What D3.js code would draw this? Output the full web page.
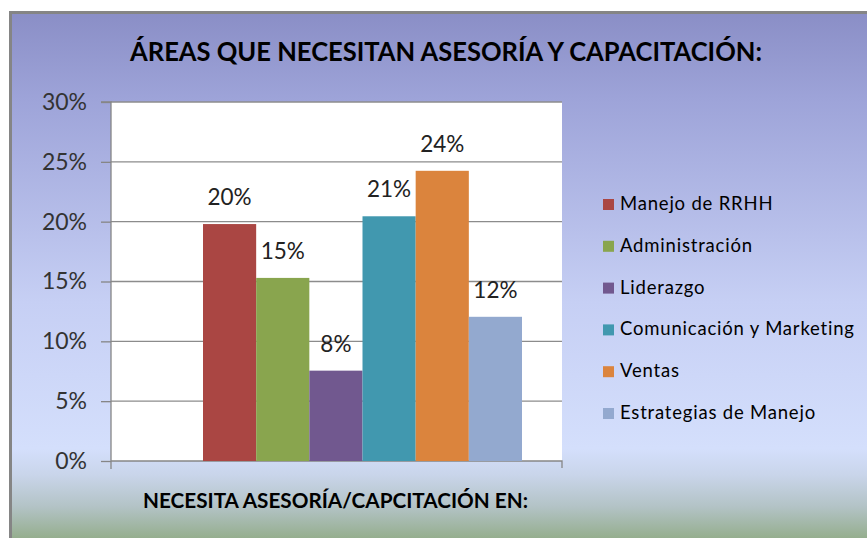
<!DOCTYPE html>
<html>
<head>
<meta charset="utf-8">
<script src="https://cdn.jsdelivr.net/npm/d3@7"></script>
<style>
  body { margin: 0; background: #fff; }
  svg { display: block; }
</style>
</head>
<body>
<div id="chart"></div>
<script>
// datos
const categoria = ["NECESITA ASESORÍA/CAPCITACIÓN EN:"];
const series = ["Manejo de RRHH", "Administración", "Liderazgo", "Comunicación y Marketing", "Ventas", "Estrategias de Manejo"];
const valores = [0.198, 0.153, 0.0755, 0.2045, 0.2425, 0.1205];
const etiquetas = ["20%", "15%", "8%", "21%", "24%", "12%"];
const colores = ["#AA4643", "#89A54E", "#71588F", "#4198AF", "#DB843D", "#93A9CF"];
const ticksY = [0, 0.05, 0.10, 0.15, 0.20, 0.25, 0.30];
const titulo = "ÁREAS QUE NECESITAN ASESORÍA Y CAPACITACIÓN:";

const W = 867, H = 538;
const font = "Lato, 'Open Sans', sans-serif";

const svg = d3.select("#chart").append("svg")
  .attr("width", W).attr("height", H);

// fondo con degradado
const defs = svg.append("defs");
const grad = defs.append("linearGradient")
  .attr("id", "fondo").attr("x1", 0).attr("y1", 0).attr("x2", 0).attr("y2", 1);
[[0, "#8a8ec6"], [0.17, "#9ea4d9"], [0.55, "#c6cff4"], [0.83, "#d4dffc"],
 [0.88, "#c9d5ea"], [0.94, "#b3c3c6"], [1, "#95ae8e"]].forEach(s => {
  grad.append("stop").attr("offset", s[0]).attr("stop-color", s[1]);
});

svg.append("rect")
  .attr("x", 10).attr("y", 12).attr("width", W - 10).attr("height", H - 12)
  .attr("fill", "url(#fondo)");
// borde gris arriba e izquierda
svg.append("path")
  .attr("d", `M${W},12.5 H10.5 V${H}`)
  .attr("fill", "none").attr("stroke", "#858585").attr("stroke-width", 3);

// area del grafico
const plot = {left: 111, right: 562, top: 102, bottom: 461};

svg.append("rect")
  .attr("x", plot.left).attr("y", plot.top)
  .attr("width", plot.right - plot.left).attr("height", plot.bottom - plot.top)
  .attr("fill", "#fff");

const y = d3.scaleLinear().domain([0, 0.30]).range([plot.bottom, plot.top]);

const x0 = d3.scaleBand().domain(categoria).range([plot.left, plot.right]);
const x1 = d3.scaleBand().domain(series).range([203, 522]);

// lineas de cuadricula
svg.append("g")
  .selectAll("line")
  .data(ticksY.filter(d => d > 0))
  .join("line")
  .attr("x1", plot.left).attr("x2", plot.right)
  .attr("y1", d => y(d)).attr("y2", d => y(d))
  .attr("stroke", "#8c8c8c").attr("stroke-width", 1.3);

// eje Y
const axisY = svg.append("g")
  .attr("transform", `translate(${plot.left},0)`)
  .call(d3.axisLeft(y).tickValues(ticksY).tickFormat(d3.format(".0%")).tickSize(10).tickPadding(14));
axisY.select(".domain").attr("stroke", "#868686").attr("stroke-width", 1.3)
  .attr("d", `M-10,${plot.top}H0V${plot.bottom + 8}`);
axisY.selectAll(".tick line").attr("stroke", "#868686").attr("stroke-width", 1.3);
axisY.selectAll(".tick text")
  .attr("font-family", font).attr("font-size", 23).attr("fill", "#333");

// eje X
const axisX = svg.append("g")
  .attr("transform", `translate(0,${plot.bottom})`);
axisX.append("path")
  .attr("d", `M${x0.range()[0]},0H${x0.range()[1]}V7`)
  .attr("fill", "none").attr("stroke", "#868686").attr("stroke-width", 1.3);

// barras
svg.append("g")
  .selectAll("rect")
  .data(valores)
  .join("rect")
  .attr("x", (d, i) => x1(series[i]))
  .attr("width", x1.bandwidth())
  .attr("y", d => y(d))
  .attr("height", d => y(0) - y(d))
  .attr("fill", (d, i) => colores[i]);

// etiquetas de datos
svg.append("g")
  .selectAll("text")
  .data(valores)
  .join("text")
  .attr("x", (d, i) => x1(series[i]) + x1.bandwidth() / 2)
  .attr("y", d => y(d) - 19)
  .attr("text-anchor", "middle")
  .attr("font-family", font).attr("font-size", 22.5).attr("fill", "#222")
  .text((d, i) => etiquetas[i]);

// titulo
svg.append("text")
  .attr("x", 446).attr("y", 61)
  .attr("text-anchor", "middle")
  .attr("font-family", font).attr("font-size", 26).attr("font-weight", "bold")
  .attr("textLength", 632).attr("lengthAdjust", "spacingAndGlyphs")
  .attr("fill", "#000")
  .text(titulo);

// titulo eje X
svg.append("text")
  .attr("x", 335.5).attr("y", 508)
  .attr("text-anchor", "middle")
  .attr("font-family", font).attr("font-size", 20).attr("font-weight", "bold")
  .attr("textLength", 385).attr("lengthAdjust", "spacingAndGlyphs")
  .attr("fill", "#000")
  .text(categoria[0]);

// leyenda
const leyenda = svg.append("g").attr("transform", "translate(603,210)");
const item = leyenda.selectAll("g")
  .data(series)
  .join("g")
  .attr("transform", (d, i) => `translate(0,${i * 41.8})`);
item.append("rect")
  .attr("x", 0).attr("y", -11).attr("width", 11).attr("height", 11)
  .attr("fill", (d, i) => colores[i]);
item.append("text")
  .attr("x", 17).attr("y", 0)
  .attr("font-family", font).attr("font-size", 18.5).attr("fill", "#000")
  .attr("letter-spacing", 0.8)
  .text(d => d);
</script>
</body>
</html>
